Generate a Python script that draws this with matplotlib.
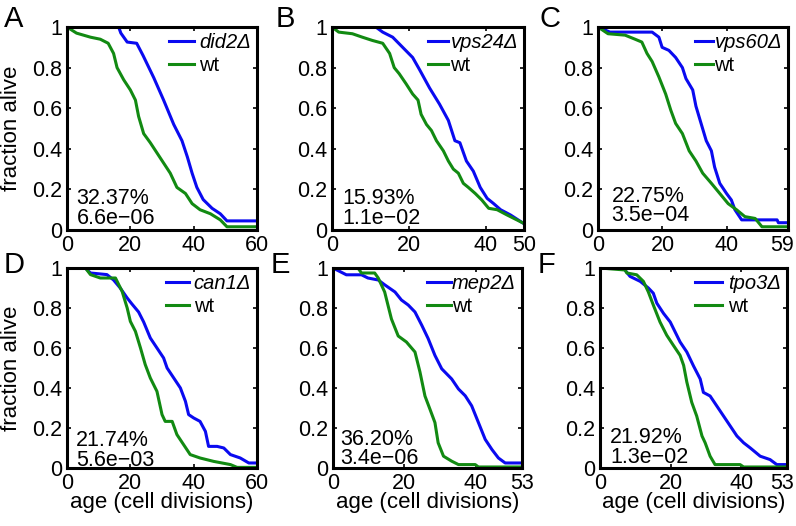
import matplotlib
matplotlib.use("Agg")
import matplotlib.pyplot as plt
from matplotlib.transforms import ScaledTranslation

plt.rcParams['font.family'] = ['Liberation Sans', 'DejaVu Sans']

BLUE = '#0a0af0'
GREEN = '#128a12'

# panel A : did2
a_mut_x = [0, 16.3, 17, 19, 22, 24, 27.4, 30.5, 33.7, 36.3, 38, 39.5, 41, 43, 45.8, 48.4, 50.5, 59.5]
a_mut_y = [1, 1, 0.97, 0.926, 0.92, 0.86, 0.75, 0.64, 0.52, 0.44, 0.36, 0.28, 0.21, 0.15, 0.107, 0.08, 0.045, 0.045]
a_wt_x = [0, 1, 3, 7.4, 10.5, 13, 14.7, 15.8, 17.9, 20, 21.6, 22.6, 24.2, 26.3, 28.4, 30.5, 32.6, 34.7,
          37.4, 39.5, 42, 45.3, 48.4, 50.5, 59.5]
a_wt_y = [1, 0.99, 0.97, 0.95, 0.94, 0.92, 0.87, 0.80, 0.74, 0.69, 0.64, 0.56, 0.475, 0.43, 0.38, 0.33, 0.28,
          0.21, 0.18, 0.13, 0.10, 0.08, 0.05, 0.016, 0.016]

# panel B : vps24
b_mut_x = [0, 11.4, 13.2, 15.8, 18.4, 21, 22.8, 25.4, 28, 30.3, 32, 33.3, 35, 36.8, 38.6, 40.4, 42.1, 43.9, 46.5, 49.6]
b_mut_y = [1, 1, 0.975, 0.95, 0.90, 0.85, 0.79, 0.70, 0.62, 0.54, 0.44, 0.43, 0.34, 0.29, 0.21, 0.156, 0.13, 0.10,
           0.074, 0.036]
b_wt_x = [0, 1.75, 5.3, 7.9, 10.5, 13.2, 15, 16.2, 17.5, 19.3, 21, 22.4, 23.2, 24.6, 25.9, 27.2, 29, 30.3, 31.6,
          32.9, 34.2, 35.5, 37.3, 39, 40.8, 43, 45.6, 49.6]
b_wt_y = [1, 0.975, 0.967, 0.95, 0.934, 0.92, 0.87, 0.80, 0.77, 0.72, 0.67, 0.64, 0.57, 0.52, 0.49, 0.44, 0.39,
          0.34, 0.30, 0.28, 0.23, 0.21, 0.18, 0.148, 0.107, 0.10, 0.074, 0.036]

# panel C : vps60
c_mut_x = [0, 3.7, 16.8, 18.9, 19.9, 22, 24.1, 26.2, 27.3, 29.4, 30.4, 32, 33.6, 35.2, 36.2, 37.8, 39.9, 41.4,
           42.5, 44.6, 55.6, 56, 58.8]
c_mut_y = [1, 0.975, 0.975, 0.95, 0.90, 0.885, 0.85, 0.80, 0.746, 0.69, 0.61, 0.525, 0.44, 0.39, 0.31, 0.23, 0.18,
           0.148, 0.10, 0.05, 0.05, 0.036, 0.036]
c_wt_x = [0, 3.1, 8.4, 11.5, 13.6, 15.2, 16.8, 18.9, 21, 22.6, 24.1, 26.2, 28.3, 30.4, 32.5, 35.2, 37.8, 40.4,
          43, 45.6, 48.8, 50.9, 58.8]
c_wt_y = [1, 0.967, 0.96, 0.94, 0.926, 0.87, 0.83, 0.754, 0.67, 0.59, 0.525, 0.475, 0.39, 0.34, 0.28, 0.23, 0.18,
          0.13, 0.10, 0.066, 0.057, 0.016, 0.016]

# panel D : can1
d_mut_x = [0, 5.8, 7.4, 12.6, 14.7, 16.8, 19, 20.5, 22.6, 24.2, 26.3, 28.4, 30.5, 31.6, 33.7, 35.8, 37.4, 38.4,
           40, 42, 43.7, 44.7, 47.4, 49.5, 51.6, 54.7, 57.4, 60]
d_mut_y = [1, 1, 0.975, 0.967, 0.94, 0.90, 0.85, 0.82, 0.78, 0.73, 0.65, 0.60, 0.55, 0.50, 0.45, 0.40, 0.333,
           0.267, 0.25, 0.233, 0.183, 0.108, 0.108, 0.10, 0.067, 0.05, 0.025, 0.025]
d_wt_x = [0, 5.8, 7.4, 10.5, 15.3, 17.4, 19, 20, 21.6, 23.2, 24.7, 26.3, 28.4, 30, 31, 33.2, 34.7, 36.8, 38.9,
          42, 46.3, 51.6, 53.7, 60]
d_wt_y = [1, 1, 0.967, 0.95, 0.95, 0.883, 0.80, 0.733, 0.683, 0.60, 0.517, 0.45, 0.383, 0.267, 0.233, 0.233,
          0.167, 0.117, 0.067, 0.05, 0.033, 0.017, 0.003, 0.003]

# panel E : mep2
e_mut_x = [0, 3.75, 8, 9.8, 12.7, 14.5, 17.4, 19.2, 21.1, 23, 24.9, 26.7, 28.6, 30.5, 33.3, 35.2, 37.1, 38.9,
           40.8, 42.7, 44.6, 46.4, 48.3, 53]
e_mut_y = [1, 0.966, 0.966, 0.95, 0.94, 0.916, 0.88, 0.84, 0.815, 0.78, 0.714, 0.647, 0.563, 0.496, 0.445, 0.395,
           0.361, 0.311, 0.227, 0.143, 0.092, 0.05, 0.025, 0.025]
e_wt_x = [0, 7, 8, 11.7, 12.7, 14.5, 16.4, 18.3, 20.6, 23, 24.4, 25.8, 27.2, 28.6, 29.5, 31, 33.3, 35.2, 39.9,
          40.8, 53]
e_wt_y = [1, 1, 0.975, 0.975, 0.95, 0.88, 0.745, 0.66, 0.63, 0.58, 0.48, 0.36, 0.294, 0.227, 0.126, 0.059, 0.034,
          0.017, 0.017, 0.005, 0.005]

# panel F : tpo3
f_mut_x = [0, 6.6, 8.5, 11.4, 13.7, 15.1, 16.1, 18, 19.9, 21.3, 22.7, 24.6, 26.5, 28.4, 29.3, 31.2, 33.1, 35,
           36.9, 38.8, 40.7, 42.6, 45.4, 48.2, 50.1, 53]
f_mut_y = [1, 1, 0.958, 0.933, 0.90, 0.874, 0.824, 0.773, 0.73, 0.68, 0.63, 0.58, 0.51, 0.445, 0.378, 0.36, 0.31,
           0.26, 0.21, 0.16, 0.126, 0.10, 0.059, 0.042, 0.017, 0.017]
f_wt_x = [0, 7.1, 7.6, 10.4, 12.3, 13.7, 15.1, 17, 18.9, 20.8, 22.7, 23.7, 24.6, 26, 27.4, 28.9, 29.8, 31.2,
          32.6, 39.7, 40.7, 53]
f_wt_y = [1, 0.99, 0.975, 0.966, 0.933, 0.88, 0.815, 0.73, 0.664, 0.613, 0.563, 0.513, 0.43, 0.328, 0.26, 0.16,
          0.126, 0.059, 0.017, 0.017, 0.005, 0.005]

letters = ['A', 'B', 'C', 'D', 'E', 'F']
mutants = ['did2Δ', 'vps24Δ', 'vps60Δ', 'can1Δ', 'mep2Δ', 'tpo3Δ']
percents = ['32.37%', '15.93%', '22.75%', '21.74%', '36.20%', '21.92%']
pvalues = ['6.6e\u221206', '1.1e\u221202', '3.5e\u221204', '5.6e\u221203', '3.4e\u221206', '1.3e\u221202']
xmax = [60, 50, 59, 60, 53, 53]
xticks = [[0, 20, 40, 60], [0, 20, 40, 50], [0, 20, 40, 59],
          [0, 20, 40, 60], [0, 20, 40, 53], [0, 20, 40, 53]]
yticks = [0, 0.2, 0.4, 0.6, 0.8, 1]
ytick_labels = ['0', '0.2', '0.4', '0.6', '0.8', '1']

curves = [(a_mut_x, a_mut_y, a_wt_x, a_wt_y), (b_mut_x, b_mut_y, b_wt_x, b_wt_y),
          (c_mut_x, c_mut_y, c_wt_x, c_wt_y), (d_mut_x, d_mut_y, d_wt_x, d_wt_y),
          (e_mut_x, e_mut_y, e_wt_x, e_wt_y), (f_mut_x, f_mut_y, f_wt_x, f_wt_y)]

# layout (figure fractions) and per-panel tweaks
rects = [[0.0842, 0.5627, 0.2387, 0.3859], [0.4171, 0.5627, 0.2412, 0.3859], [0.7513, 0.5627, 0.2387, 0.3859],
         [0.0842, 0.1103, 0.2387, 0.3802], [0.4183, 0.1103, 0.2374, 0.3802], [0.7538, 0.1103, 0.2349, 0.3802]]
handle_len = [1.25, 1.0, 0.9, 1.1, 1.2, 1.35]
handle_pad = [0.25, 0.1, 0.05, 0.25, 0.05, 0.3]
text_x = [0.051, 0.054, 0.072, 0.047, 0.037, 0.053]
text_y1 = [0.127, 0.127, 0.140, 0.112, 0.117, 0.124]
text_y2 = [0.030, 0.030, 0.043, 0.012, 0.020, 0.026]
letter_pos = [(14, 19), (285, 19), (550, 19), (14, 265), (280, 265), (547, 265)]
last_label_shift = [0, 0, -6, 0, 0, -5]   # px, keeps "59"/"53" inside the canvas

fig = plt.figure(figsize=(7.96, 5.26), dpi=100)

for i in range(6):
    ax = fig.add_axes(rects[i])
    mx, my, wx, wy = curves[i]
    ax.plot(mx, my, color=BLUE, lw=2.2, label=mutants[i])
    ax.plot(wx, wy, color=GREEN, lw=2.2, label='wt')
    ax.set_xlim(0, xmax[i])
    ax.set_ylim(0, 1)
    ax.set_xticks(xticks[i])
    ax.set_xticklabels([str(t) for t in xticks[i]])
    ax.set_yticks(yticks)
    ax.set_yticklabels(ytick_labels)
    ax.tick_params(direction='in', length=3, width=1.2, labelsize=15.5, pad=3.5,
                   top=True, right=True)
    for s in ax.spines.values():
        s.set_linewidth(2.2)
    if last_label_shift[i]:
        lab = ax.get_xticklabels()[-1]
        lab.set_transform(lab.get_transform() +
                          ScaledTranslation(last_label_shift[i] / 100, 0, fig.dpi_scale_trans))

    leg = ax.legend(loc='upper right', bbox_to_anchor=(1, 1), frameon=False, fontsize=14.5,
                    handlelength=handle_len[i], handletextpad=handle_pad[i],
                    borderaxespad=0.1, borderpad=0.2, labelspacing=0.2)
    leg.get_texts()[0].set_style('italic')

    ax.text(text_x[i], text_y1[i], percents[i], transform=ax.transAxes, fontsize=15.5, va='baseline')
    ax.text(text_x[i], text_y2[i], pvalues[i], transform=ax.transAxes, fontsize=15.5, va='baseline')

    if i in (0, 3):
        ax.set_ylabel('fraction alive', fontsize=16, labelpad=7)
    if i >= 3:
        ax.set_xlabel('age (cell divisions)', fontsize=16, labelpad=-1)

    lx, ly = letter_pos[i]
    fig.text(lx / 796, 1 - ly / 526, letters[i], fontsize=21, ha='center', va='center')

fig.savefig('out.png', dpi=100)
